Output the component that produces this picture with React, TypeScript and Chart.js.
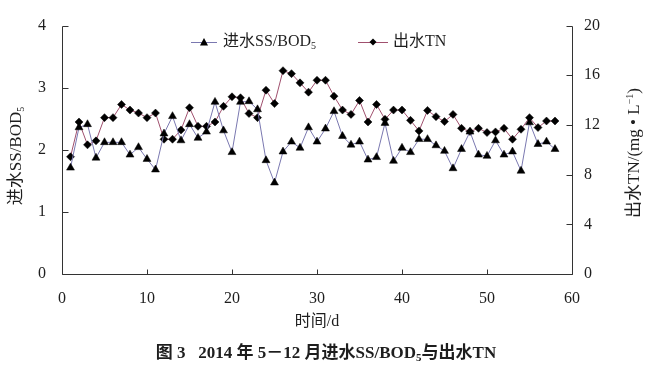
import React, { useEffect, useRef } from 'react';
import { Chart, registerables } from 'chart.js';

Chart.register(...registerables);

// ---- data ----
const days = [
  1, 2, 3, 4, 5, 6, 7, 8, 9, 10, 11, 12, 13, 14, 15, 16, 17, 18, 19, 20,
  21, 22, 23, 24, 25, 26, 27, 28, 29, 30, 31, 32, 33, 34, 35, 36, 37, 38, 39, 40,
  41, 42, 43, 44, 45, 46, 47, 48, 49, 50, 51, 52, 53, 54, 55, 56, 57, 58,
];
const ssBod = [
  1.71, 2.36, 2.41, 1.87, 2.12, 2.12, 2.12, 1.92, 2.04, 1.85,
  1.68, 2.26, 2.54, 2.15, 2.41, 2.19, 2.29, 2.77, 2.31, 1.96,
  2.77, 2.78, 2.65, 1.83, 1.47, 1.97, 2.13, 2.03, 2.36, 2.13,
  2.34, 2.62, 2.22, 2.08, 2.13, 1.84, 1.88, 2.43, 1.82, 2.03,
  1.96, 2.17, 2.17, 2.07, 1.98, 1.70, 2.01, 2.29, 1.92, 1.90,
  2.15, 1.92, 1.97, 1.66, 2.44, 2.09, 2.13, 2.01,
];
const tn = [
  9.44, 12.24, 10.4, 10.72, 12.59, 12.59, 13.65, 13.2, 12.96, 12.59,
  12.96, 10.85, 10.85, 11.6, 13.39, 11.89, 11.89, 12.24, 13.5, 14.27,
  14.19, 12.92, 12.59, 14.8, 13.72, 16.37, 16.13, 15.39, 14.64, 15.6,
  15.6, 14.32, 13.2, 12.85, 13.97, 12.24, 13.65, 12.45, 13.2, 13.2,
  12.37, 11.52, 13.17, 12.67, 12.27, 12.85, 11.73, 11.47, 11.73, 11.39,
  11.44, 11.73, 10.85, 11.65, 12.59, 11.79, 12.32, 12.32,
];
const xRange = [0, 60];
const leftRange = [0, 4];
const rightRange = [0, 20];
const xStep = 10;
const leftStep = 1;
const rightStep = 4;

const ssName = '进水SS/BOD';
const ssSub = '5';
const tnName = '出水TN';
const xTitle = '时间/d';
const rightTitleMain = '出水TN/(mg • L';
const rightTitleSup = '−1';
const captionA = '图 3';
const captionB = '2014 年 5－12 月进水SS/BOD';
const captionSub = '5';
const captionC = '与出水TN';

// ---- styles ----
const FONT = '"Liberation Serif", "Noto Sans CJK SC", serif';
const TEXT = '#1e1e1e';
const SS_LINE = '#7a78b0';
const TN_LINE = '#a0506e';

type Part = { text: string; font: string; dy?: number };

function drawParts(ctx: CanvasRenderingContext2D, parts: Part[], cx: number, cy: number, angle: number) {
  ctx.save();
  ctx.translate(cx, cy);
  ctx.rotate(angle);
  let total = 0;
  for (const p of parts) {
    ctx.font = p.font;
    total += ctx.measureText(p.text).width;
  }
  let x = -total / 2;
  ctx.textBaseline = 'middle';
  ctx.textAlign = 'left';
  ctx.fillStyle = TEXT;
  for (const p of parts) {
    ctx.font = p.font;
    ctx.fillText(p.text, x, p.dy || 0);
    x += ctx.measureText(p.text).width;
  }
  ctx.restore();
}

function drawPartsLeft(ctx: CanvasRenderingContext2D, parts: Part[], x0: number, cy: number) {
  ctx.save();
  ctx.textBaseline = 'middle';
  ctx.textAlign = 'left';
  ctx.fillStyle = TEXT;
  let x = x0;
  for (const p of parts) {
    ctx.font = p.font;
    ctx.fillText(p.text, x, cy + (p.dy || 0));
    x += ctx.measureText(p.text).width;
  }
  ctx.restore();
}

const decorPlugin = {
  id: 'decor',
  afterDraw(chart: any) {
    const ctx: CanvasRenderingContext2D = chart.ctx;
    const { left, right, top, bottom } = chart.chartArea;
    const xs = chart.scales.x;
    const yl = chart.scales.y;
    const yr = chart.scales.y1;
    ctx.save();
    ctx.strokeStyle = '#333';
    ctx.lineWidth = 1;
    const L = Math.round(left) + 0.5;
    const R = Math.round(right) + 0.5;
    const B = Math.round(bottom) + 0.5;
    ctx.beginPath();
    ctx.moveTo(L, Math.round(top) + 0.5);
    ctx.lineTo(L, B);
    ctx.lineTo(R, B);
    ctx.lineTo(R, Math.round(top) + 0.5);
    for (const t of yl.ticks) {
      const y = Math.round(yl.getPixelForValue(t.value)) + 0.5;
      ctx.moveTo(L, y);
      ctx.lineTo(L + 6, y);
    }
    for (const t of yr.ticks) {
      const y = Math.round(yr.getPixelForValue(t.value)) + 0.5;
      ctx.moveTo(R, y);
      ctx.lineTo(R - 6, y);
    }
    for (const t of xs.ticks) {
      const x = Math.round(xs.getPixelForValue(t.value)) + 0.5;
      ctx.moveTo(x, B);
      ctx.lineTo(x, B - 5);
    }
    ctx.stroke();
    ctx.restore();

    const f16 = `16px ${FONT}`;
    const f17 = `17px ${FONT}`;
    const f10 = `10px ${FONT}`;
    // left title
    drawParts(ctx, [
      { text: ssName, font: f17 },
      { text: ssSub, font: f10, dy: 4 },
    ], 17, 156, -Math.PI / 2);
    // right title
    drawParts(ctx, [
      { text: rightTitleMain, font: f17 },
      { text: rightTitleSup, font: f10, dy: -5 },
      { text: ')', font: f17 },
    ], 635, 153, -Math.PI / 2);
    // x title
    drawParts(ctx, [{ text: xTitle, font: f16 }], (left + right) / 2, 322, 0);
    // caption
    const fb = `bold 17px ${FONT}`;
    const fbs = `bold 11px ${FONT}`;
    drawParts(ctx, [
      { text: captionA + '   ', font: fb },
      { text: captionB, font: fb },
      { text: captionSub, font: fbs, dy: 4 },
      { text: captionC, font: fb },
    ], 326, 354, 0);

    // legend
    const ly = 42;
    ctx.save();
    ctx.lineWidth = 1;
    ctx.strokeStyle = SS_LINE;
    ctx.beginPath();
    ctx.moveTo(191, ly + 0.5);
    ctx.lineTo(217, ly + 0.5);
    ctx.stroke();
    ctx.fillStyle = '#000';
    ctx.beginPath();
    ctx.moveTo(204, ly - 4);
    ctx.lineTo(208, ly + 3.5);
    ctx.lineTo(200, ly + 3.5);
    ctx.closePath();
    ctx.fill();
    ctx.strokeStyle = TN_LINE;
    ctx.beginPath();
    ctx.moveTo(358, ly + 0.5);
    ctx.lineTo(388, ly + 0.5);
    ctx.stroke();
    ctx.fillStyle = '#000';
    ctx.beginPath();
    ctx.moveTo(373, ly - 3.5);
    ctx.lineTo(376.5, ly);
    ctx.lineTo(373, ly + 3.5);
    ctx.lineTo(369.5, ly);
    ctx.closePath();
    ctx.fill();
    ctx.restore();
    drawPartsLeft(ctx, [
      { text: ssName, font: f16 },
      { text: ssSub, font: f10, dy: 4 },
    ], 223, ly);
    drawPartsLeft(ctx, [{ text: tnName, font: f16 }], 393, ly);
  },
};

export default function App() {
  const ref = useRef<HTMLCanvasElement>(null);
  useEffect(() => {
    if (!ref.current) return;
    const tickFont = { family: FONT, size: 16 };
    const chart = new Chart(ref.current, {
      type: 'line',
      data: {
        datasets: [
          {
            label: ssName + ssSub,
            data: days.map((d, i) => ({ x: d, y: ssBod[i] })),
            yAxisID: 'y',
            borderColor: SS_LINE,
            borderWidth: 1,
            pointStyle: 'triangle',
            pointRadius: 4.6,
            pointBackgroundColor: '#000',
            pointBorderColor: '#000',
            pointBorderWidth: 0.5,
            tension: 0,
          },
          {
            label: tnName,
            data: days.map((d, i) => ({ x: d, y: tn[i] })),
            yAxisID: 'y1',
            borderColor: TN_LINE,
            borderWidth: 1,
            pointStyle: 'rectRot',
            pointRadius: 4,
            pointBackgroundColor: '#000',
            pointBorderColor: '#000',
            pointBorderWidth: 0.5,
            tension: 0,
          },
        ],
      },
      options: {
        responsive: false,
        animation: false,
        events: [],
        layout: { padding: { top: 24, left: 0, right: 0, bottom: 0 } },
        plugins: { legend: { display: false }, tooltip: { enabled: false } },
        scales: {
          x: {
            type: 'linear',
            min: xRange[0],
            max: xRange[1],
            ticks: { stepSize: xStep, font: tickFont, color: TEXT, padding: 15, maxRotation: 0 },
            grid: { display: false, drawTicks: false },
            border: { display: false },
            afterFit: (s: any) => { s.height = 97; },
          },
          y: {
            type: 'linear',
            position: 'left',
            min: leftRange[0],
            max: leftRange[1],
            ticks: { stepSize: leftStep, font: tickFont, color: TEXT, padding: 16 },
            grid: { display: false, drawTicks: false },
            border: { display: false },
            afterFit: (s: any) => { s.width = 62; },
          },
          y1: {
            type: 'linear',
            position: 'right',
            min: rightRange[0],
            max: rightRange[1],
            ticks: { stepSize: rightStep, font: tickFont, color: TEXT, padding: 12 },
            grid: { display: false, drawTicks: false },
            border: { display: false },
            afterFit: (s: any) => { s.width = 81; },
          },
        },
      },
      plugins: [decorPlugin],
    } as any);
    return () => chart.destroy();
  }, []);
  return (
    <div style={{ position: 'absolute', left: 0, top: 0, width: 653, height: 371, background: '#fff' }}>
      <canvas ref={ref} width={653} height={371} />
    </div>
  );
}
